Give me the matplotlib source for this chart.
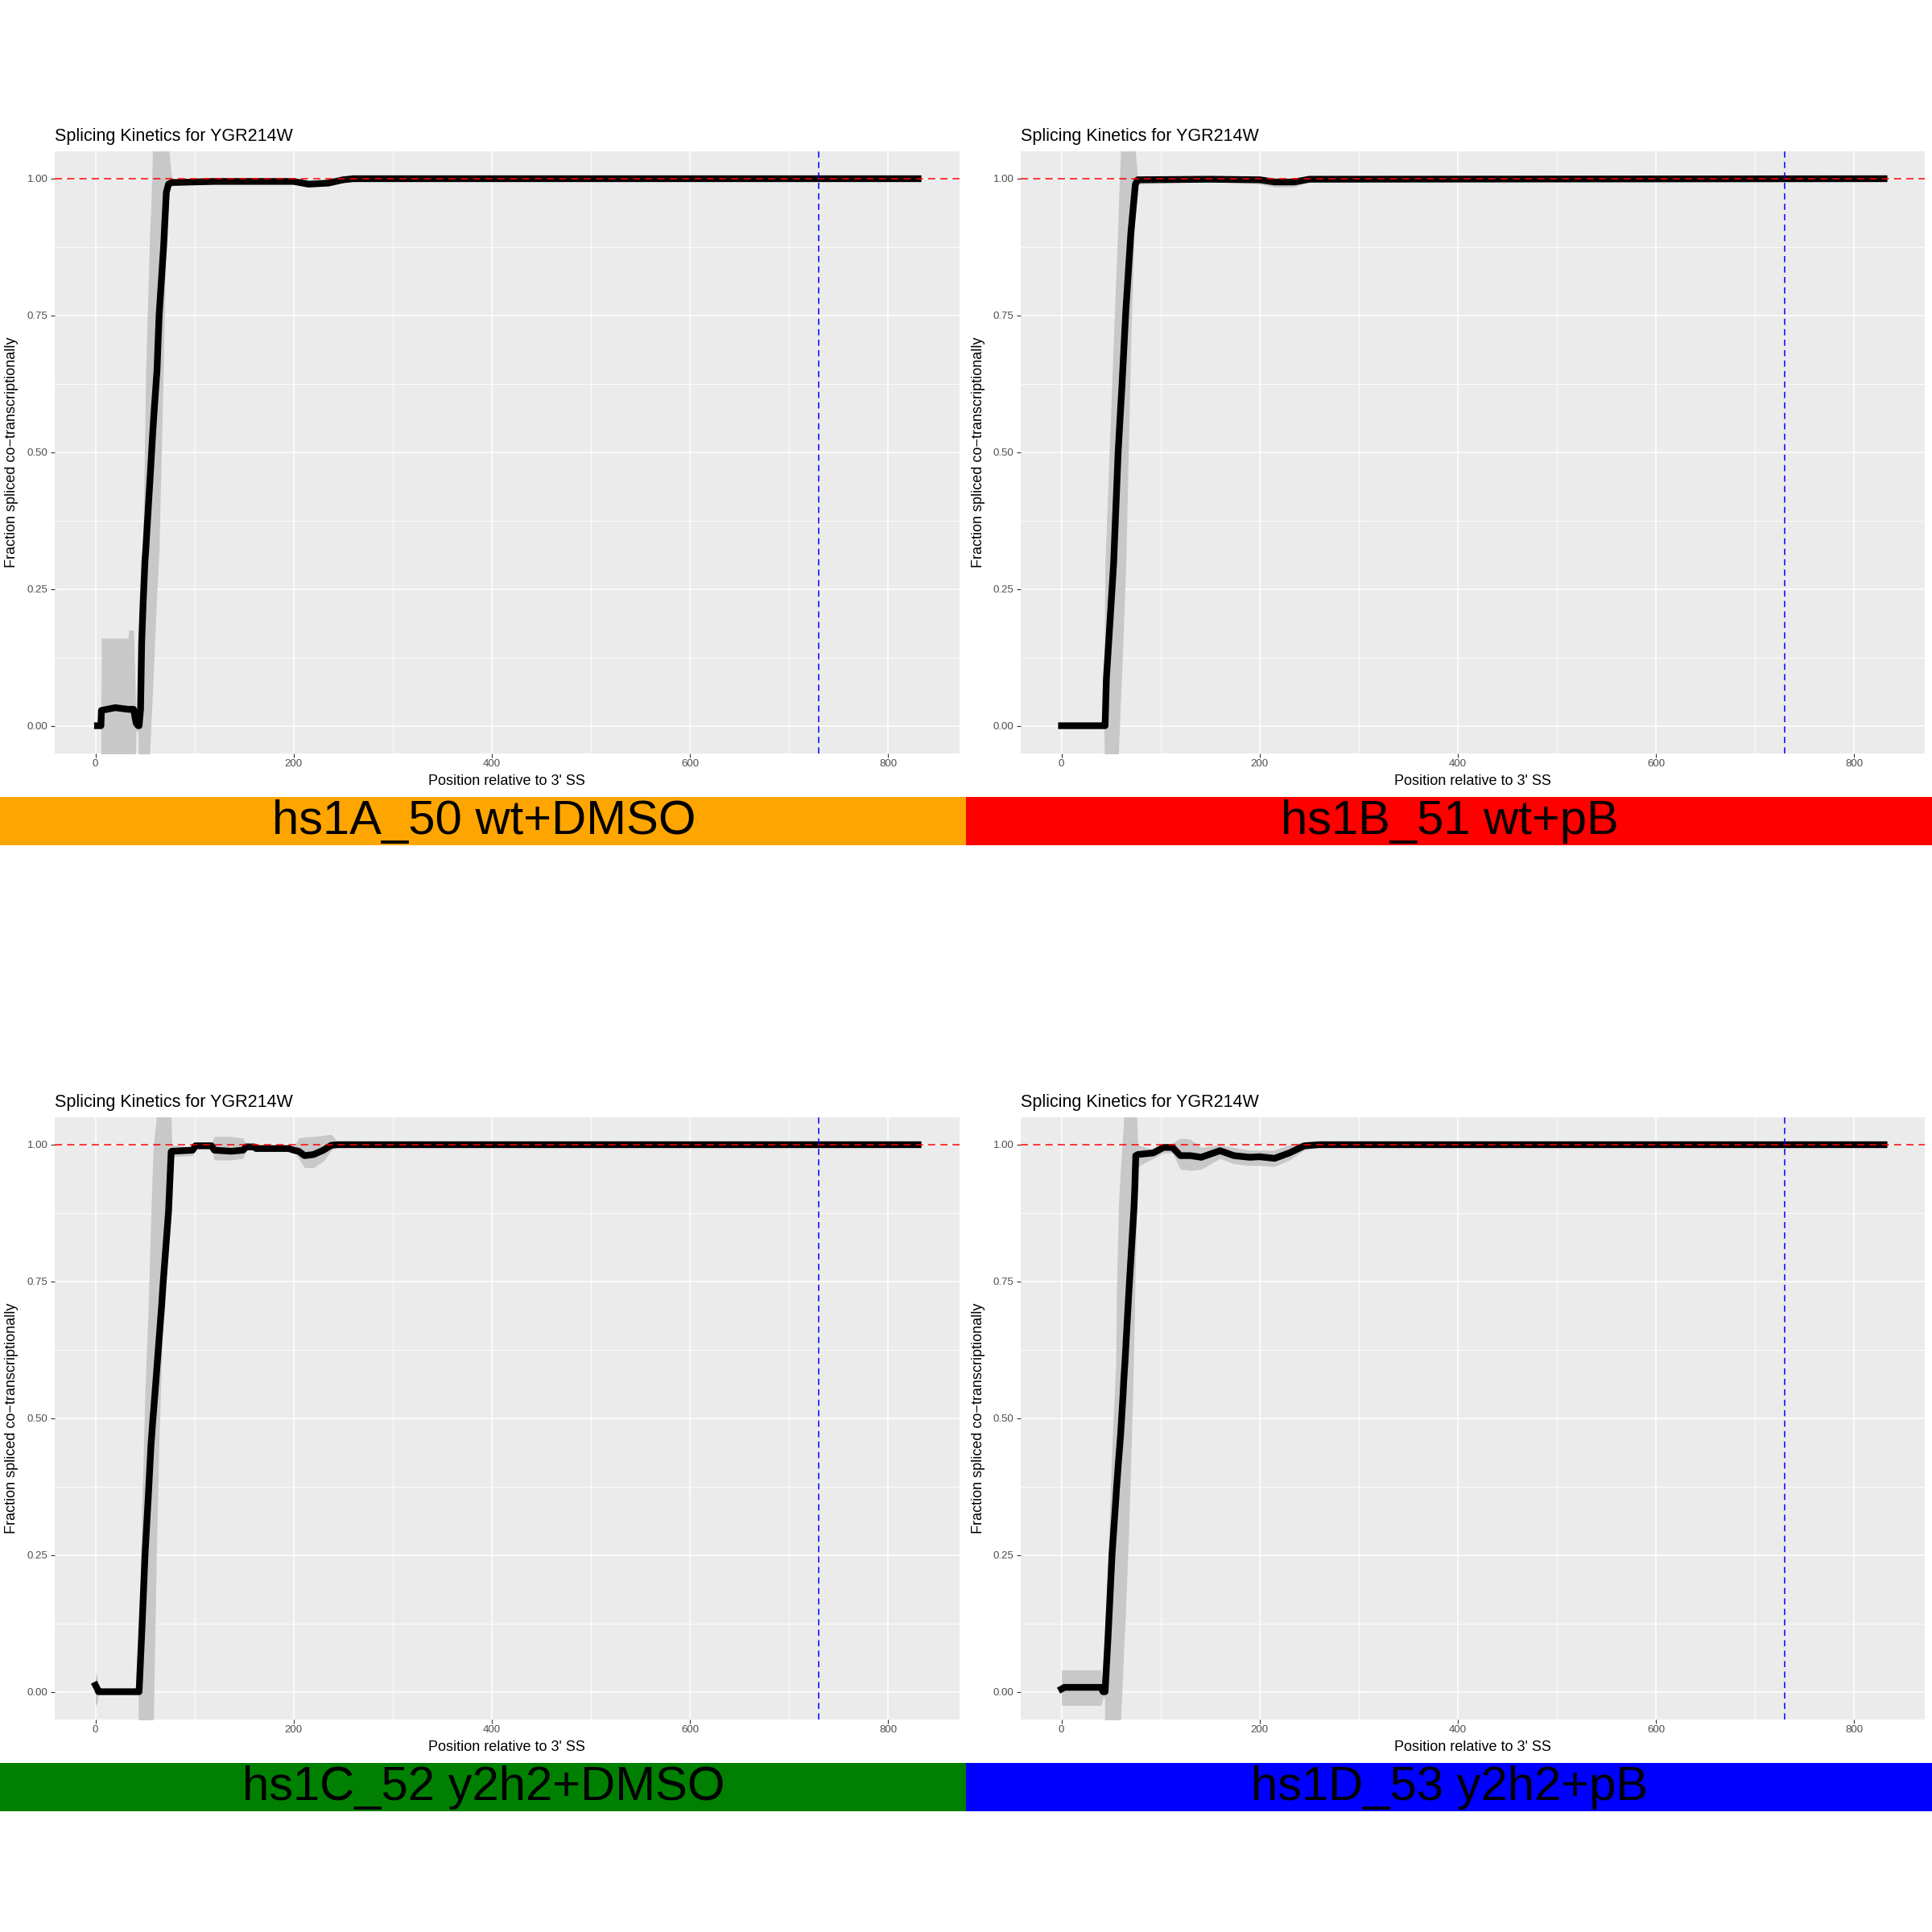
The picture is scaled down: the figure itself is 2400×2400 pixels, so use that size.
import matplotlib
matplotlib.use("Agg")
import matplotlib.pyplot as plt
from matplotlib import font_manager
from matplotlib.patches import Rectangle

# ---------------- data ----------------
plot_title = "Splicing Kinetics for YGR214W"
x_label = "Position relative to 3' SS"
y_label = "Fraction spliced co\u2212transcriptionally"
sample_labels = ["hs1A_50 wt+DMSO", "hs1B_51 wt+pB", "hs1C_52 y2h2+DMSO", "hs1D_53 y2h2+pB"]
banner_colors = ["#FFA500", "#FF0000", "#008000", "#0000FF"]

x_ticks = [0, 200, 400, 600, 800]
x_minor = [100, 300, 500, 700]
y_ticks = [0.0, 0.25, 0.5, 0.75, 1.0]
y_tick_labels = ["0.00", "0.25", "0.50", "0.75", "1.00"]
y_minor = [0.125, 0.375, 0.625, 0.875]
ref_level = 1.0
marker_pos = 730

# hs1A_50 wt+DMSO
pos_A = [2, 5.5, 6, 20, 33, 33.5, 37, 38.5, 41, 43, 44, 45.5, 46.6, 48, 49.9, 50.7, 54, 54.7, 56, 57.6, 59,
         62.1, 64.2, 68.8, 71.5, 73.7, 77, 120, 200, 215, 235, 250, 260, 830]
val_A = [0, 0, 0.028, 0.033, 0.03, 0.03, 0.03, 0.03, 0.005, 0.0, 0.0, 0.03, 0.15, 0.22, 0.3, 0.32, 0.42, 0.44,
         0.48, 0.53, 0.57, 0.65, 0.75, 0.877, 0.975, 0.99, 0.993, 0.995, 0.995, 0.99, 0.992, 0.998, 1.0, 1.0]
lo_A = [0, 0, -0.2, -0.2, -0.2, -0.2, -0.2, -0.2, -0.01, -0.01, -0.2, -0.2, -0.2, -0.2, -0.2, -0.2, -0.2, -0.05,
        0.0, 0.06, 0.12, 0.25, 0.32, 0.68, 0.95, 0.985, 0.988, 0.99, 0.99, 0.985, 0.988, 0.995, 0.998, 0.998]
hi_A = [0, 0, 0.16, 0.16, 0.16, 0.175, 0.175, 0.175, 0.01, 0.01, 0.03, 0.1, 0.2, 0.35, 0.55, 0.65, 0.85, 0.9,
        0.95, 1.05, 1.2, 1.2, 1.2, 1.2, 1.2, 1.06, 1.0, 0.998, 0.998, 0.995, 0.996, 1.0, 1.002, 1.002]

# hs1B_51 wt+pB
pos_B = [0, 43, 43.5, 44, 45.3, 49.3, 52.6, 57.2, 57.5, 59.7, 61, 64.7, 65, 70, 74.6, 77, 150, 200, 215, 235, 250, 830]
val_B = [0, 0, 0, 0.0, 0.085, 0.2, 0.296, 0.5, 0.51, 0.58, 0.62, 0.75, 0.76, 0.9, 0.99, 0.998, 0.999, 0.998,
         0.994, 0.994, 0.999, 1.0]
lo_B = [0, 0, -0.2, -0.2, -0.2, -0.2, -0.2, -0.2, -0.05, 0.05, 0.1, 0.28, 0.3, 0.7, 0.97, 0.99, 0.995, 0.99,
        0.985, 0.985, 0.995, 0.997]
hi_B = [0, 0, 0.2, 0.3, 0.36, 0.55, 0.71, 0.93, 0.95, 1.05, 1.2, 1.2, 1.2, 1.2, 1.05, 1.0, 1.002, 1.002,
        1.0, 1.0, 1.003, 1.003]

# hs1C_52 y2h2+DMSO
pos_C = [0, 2, 3, 43, 44, 47, 50, 53.4, 56, 58, 58.5, 61.5, 64, 66.9, 68, 73.7, 76.4, 77, 98, 101, 117, 120,
         137, 149, 152, 160, 162, 195, 200, 205, 211, 220, 230, 238, 245, 830]
val_C = [0.012, 0.005, 0, 0, 0.0, 0.12, 0.25, 0.36, 0.45, 0.5, 0.51, 0.58, 0.64, 0.709, 0.74, 0.877, 0.987,
         0.988, 0.99, 0.998, 0.998, 0.99, 0.988, 0.99, 0.996, 0.996, 0.993, 0.993, 0.99, 0.988, 0.98, 0.982,
         0.99, 0.999, 1.0, 1.0]
lo_C = [-0.025, -0.02, -0.003, -0.003, -0.2, -0.2, -0.2, -0.2, -0.2, -0.2, -0.05, 0.25, 0.45, 0.62, 0.68,
        0.86, 0.975, 0.978, 0.98, 0.993, 0.993, 0.972, 0.972, 0.975, 0.99, 0.99, 0.988, 0.988, 0.985, 0.975,
        0.958, 0.958, 0.97, 0.99, 0.997, 0.997]
hi_C = [0.035, 0.025, 0.003, 0.003, 0.1, 0.35, 0.55, 0.709, 0.877, 0.98, 1.0, 1.05, 1.2, 1.2, 1.2, 1.2, 1.05,
        1.0, 0.995, 1.002, 1.002, 1.015, 1.015, 1.012, 1.0, 1.0, 0.997, 0.997, 0.995, 1.012, 1.014, 1.015,
        1.017, 1.019, 1.003, 1.003]

# hs1D_53 y2h2+pB
pos_D = [0, 3, 40, 42, 43.5, 44, 47, 51, 54.8, 55.5, 57.5, 59.7, 62.3, 62.9, 64, 68, 72, 73.2, 74, 75, 76, 77,
         92.6, 103, 112, 120, 130, 141, 160, 174, 190, 200, 215, 230, 245, 260, 830]
val_D = [0.005, 0.008, 0.008, 0.0, 0.0, 0.0, 0.1, 0.25, 0.35, 0.37, 0.42, 0.47, 0.548, 0.57, 0.6, 0.731, 0.85,
         0.886, 0.92, 0.98, 0.981, 0.982, 0.985, 0.995, 0.995, 0.98, 0.98, 0.977, 0.989, 0.98, 0.977, 0.978,
         0.975, 0.985, 0.998, 1.0, 1.0]
lo_D = [-0.025, -0.025, -0.025, -0.01, -0.01, -0.2, -0.2, -0.2, -0.2, -0.2, -0.2, -0.05, 0.05, 0.08, 0.12,
        0.3, 0.548, 0.65, 0.731, 0.81, 0.886, 0.96, 0.975, 0.985, 0.985, 0.955, 0.953, 0.955, 0.975, 0.965,
        0.962, 0.962, 0.96, 0.972, 0.99, 0.996, 0.997]
hi_D = [0.04, 0.04, 0.04, 0.02, 0.02, 0.05, 0.25, 0.45, 0.6, 0.73, 0.886, 0.96, 1.03, 1.05, 1.2, 1.2, 1.2,
        1.2, 1.2, 1.15, 1.05, 1.0, 0.99, 1.0, 1.003, 1.012, 1.01, 0.995, 1.0, 0.995, 0.99, 0.99, 0.99, 1.0,
        1.005, 1.003, 1.003]

panels = [
    (pos_A, val_A, lo_A, hi_A),
    (pos_B, val_B, lo_B, hi_B),
    (pos_C, val_C, lo_C, hi_C),
    (pos_D, val_D, lo_D, hi_D),
]

# ---------------- figure ----------------
W = H = 2400
fig = plt.figure(figsize=(24, 24), dpi=100)
fig.patch.set_facecolor("white")

names = {f.name for f in font_manager.fontManager.ttflist}
base_font = "Liberation Sans" if "Liberation Sans" in names else "DejaVu Sans"
if "Liberation Sans Narrow" in names:
    banner_family = ["Liberation Sans Narrow", base_font]
    banner_size = 52
else:
    banner_family = [base_font]
    banner_size = 43
plt.rcParams["font.family"] = [base_font, "DejaVu Sans"]


def fx(px):
    return px / W


def fy(py):
    return 1 - py / H


CELL = 1200
for i, (pos, val, lo, hi) in enumerate(panels):
    r, c = divmod(i, 2)
    ox, oy = c * CELL, r * CELL
    ax = fig.add_axes([fx(ox + 67.5), fy(oy + 935.5), 1124 / W, 747.5 / H])
    ax.set_facecolor("#EBEBEB")
    for s in ax.spines.values():
        s.set_visible(False)
    ax.set_xlim(-41.5, 871.5)
    ax.set_ylim(-0.05, 1.05)
    ax.set_xticks(x_ticks)
    ax.set_xticklabels([str(t) for t in x_ticks])
    ax.set_xticks(x_minor, minor=True)
    ax.set_yticks(y_ticks)
    ax.set_yticklabels(y_tick_labels)
    ax.set_yticks(y_minor, minor=True)
    ax.grid(which="major", color="white", lw=1.1)
    ax.grid(which="minor", color="white", lw=0.6)
    ax.set_axisbelow(True)
    ax.tick_params(which="major", length=3.6, width=0.8, color="#333333",
                   labelcolor="#4D4D4D", labelsize=9.5, pad=2)
    ax.tick_params(which="minor", length=0)

    ax.fill_between(pos, lo, hi, color="#C8C8C8", lw=0, zorder=1)
    ax.plot(pos, val, color="black", lw=6, zorder=2)
    ax.axhline(ref_level, color="red", lw=1.1, ls=(0, (6, 4)), zorder=3)
    ax.axvline(marker_pos, color="blue", lw=1.1, ls=(0, (5, 3.5)), zorder=3)

    fig.text(fx(ox + 68), fy(oy + 175), plot_title, fontsize=15.5,
             ha="left", va="baseline", color="black")
    fig.text(fx(ox + 629), fy(oy + 975), x_label, fontsize=13,
             ha="center", va="baseline", color="black")
    fig.text(fx(ox + 15), fy(oy + 562), y_label, fontsize=13, rotation=90,
             ha="center", va="center", color="black")

    fig.add_artist(Rectangle((fx(ox), fy(oy + 1050)), CELL / W, 60 / H,
                             transform=fig.transFigure, facecolor=banner_colors[i],
                             edgecolor="none", zorder=0))
    fig.text(fx(ox + 601), fy(oy + 1036), sample_labels[i], fontsize=banner_size,
             family=banner_family, ha="center", va="baseline", color="black")

fig.savefig("out.png", dpi=100, facecolor="white")
